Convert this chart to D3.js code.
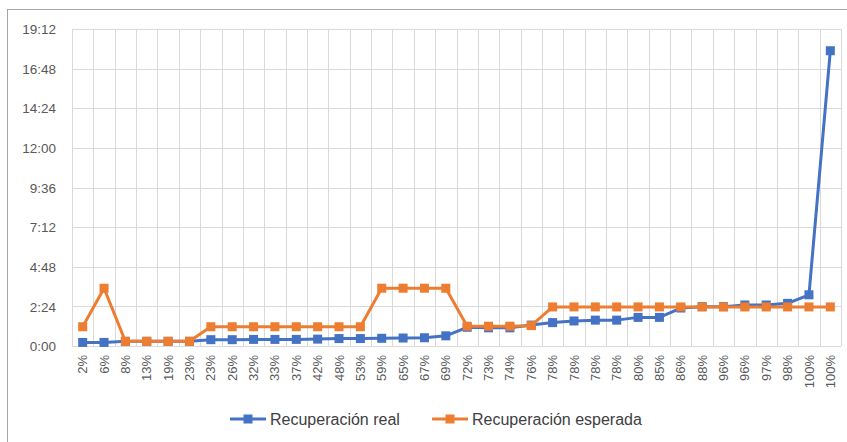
<!DOCTYPE html>
<html><head><meta charset="utf-8">
<script src="https://cdn.jsdelivr.net/npm/d3@7/dist/d3.min.js"></script>
<style>body{margin:0;background:#fff}svg{display:block}text{font-family:"Liberation Sans",Arial,sans-serif}</style>
</head><body><svg id="c" width="847" height="442"></svg>
<script>
const categories = ["2%","6%","8%","13%","19%","23%","23%","26%","32%","33%","37%","42%","48%","53%","59%","65%","67%","69%","72%","73%","74%","76%","78%","78%","78%","78%","80%","85%","86%","88%","96%","96%","97%","98%","100%","100%"];
// values in minutes
const realValues = [13,13,17,17,17,17,23,23,24,24,24,25,27,27,28,29,30,37,68,66,66,76,85,91,94,94,104,104,138,143,143,149,149,155,186,1073];
const expectedValues = [70,210,17,17,17,17,70,70,70,70,70,70,70,70,210,210,210,210,72,72,72,74,142,142,142,142,142,142,142,142,142,142,142,142,142,142];
const yTicks = [0,144,288,432,576,720,864,1008,1152];
const seriesNames = ["Recuperación real","Recuperación esperada"];
const colors = ["#4472C4","#ED7D31"];

const svg = d3.select("#c");
const L=72,R=841,T=29,B=346;
svg.append("rect").attr("x",7.5).attr("y",9.5).attr("width",900).attr("height",500).attr("fill","#fff").attr("stroke","#a6a6a6");

const idx = categories.map((d,i)=>i);
const x = d3.scaleBand().domain(idx).range([L,R]).padding(0);
const y = d3.scaleLinear().domain([0,1152]).range([B,T]);
const fmt = m => Math.floor(m/60)+":"+String(m%60).padStart(2,"0");

const g = svg.append("g");
g.selectAll(".hg").data(yTicks).enter().append("line")
 .attr("x1",L).attr("x2",R).attr("y1",d=>Math.round(y(d))+0.5).attr("y2",d=>Math.round(y(d))+0.5)
 .attr("stroke","#d9d9d9").attr("stroke-width",1);
const edges = idx.map(i=>x(i)).concat([x(idx[idx.length-1])+x.bandwidth()]);
g.selectAll(".vg").data(edges).enter().append("line")
 .attr("x1",d=>Math.round(d)+0.5).attr("x2",d=>Math.round(d)+0.5).attr("y1",T).attr("y2",B)
 .attr("stroke","#d9d9d9").attr("stroke-width",1);

const ya = svg.append("g").attr("transform",`translate(${L-16},0)`)
 .call(d3.axisLeft(y).tickValues(yTicks).tickFormat(fmt).tickSize(0).tickPadding(0));
ya.select(".domain").remove();
ya.selectAll("text").attr("fill","#595959").style("font-size","13.5px").attr("dy","0.35em");

const xa = svg.append("g").attr("transform",`translate(0,${B})`)
 .call(d3.axisBottom(x).tickFormat(i=>categories[i]).tickSize(0));
xa.select(".domain").remove();
xa.selectAll("text").attr("fill","#595959").style("font-size","13px")
 .attr("transform","rotate(-90)").attr("text-anchor","end").attr("x",-9).attr("y",0).attr("dy","0.35em");

const cx = i => x(i)+x.bandwidth()/2;
[realValues,expectedValues].forEach((vals,s)=>{
  const line = d3.line().x((d,i)=>cx(i)).y(d=>y(d));
  svg.append("path").datum(vals).attr("d",line).attr("fill","none")
   .attr("stroke",colors[s]).attr("stroke-width",3).attr("stroke-linejoin","round");
  svg.selectAll(".m"+s).data(vals).enter().append("rect")
   .attr("x",(d,i)=>cx(i)-4.5).attr("y",d=>y(d)-4.5).attr("width",9).attr("height",9)
   .attr("fill",colors[s]);
});

const leg = [{x1:230,x2:266,tx:270},{x1:432,x2:468,tx:472}];
leg.forEach((l,s)=>{
  const ly=419;
  svg.append("line").attr("x1",l.x1).attr("x2",l.x2).attr("y1",ly).attr("y2",ly).attr("stroke",colors[s]).attr("stroke-width",3);
  svg.append("rect").attr("x",(l.x1+l.x2)/2-4.5).attr("y",ly-4.5).attr("width",9).attr("height",9).attr("fill",colors[s]);
  svg.append("text").attr("x",l.tx).attr("y",ly).attr("dy","0.35em").attr("fill","#404040").style("font-size","16px").text(seriesNames[s]);
});
</script></body></html>
